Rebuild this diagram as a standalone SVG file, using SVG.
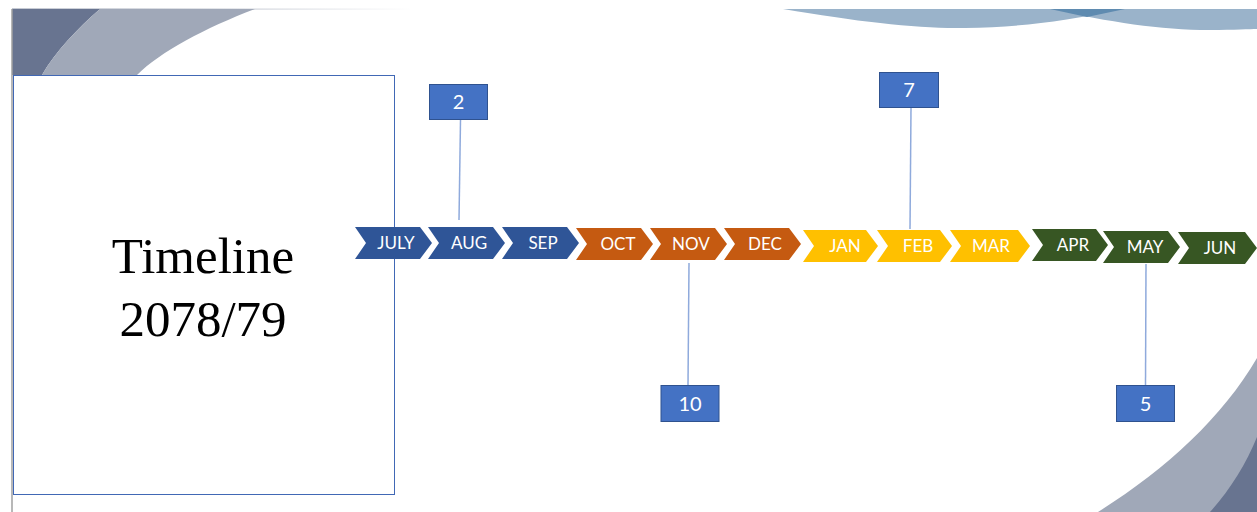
<svg xmlns="http://www.w3.org/2000/svg" width="1257" height="512" viewBox="0 0 1257 512">
<defs>
<style>
.mo{font-family:Lato,"Open Sans","Liberation Sans",sans-serif;font-size:17px;fill:#fff;text-anchor:middle}
.blue{fill:#2F5597}.orange{fill:#C55A11}.yellow{fill:#FFC000}.green{fill:#375623}
.nb{fill:#4472C4;stroke:#2F528F;stroke-width:1}
.nt{font-family:Lato,"Open Sans","Liberation Sans",sans-serif;font-size:20px;fill:#fff;text-anchor:middle}
.conn{stroke:#8FAADC;stroke-width:1.5;fill:none}
.title{font-family:"Liberation Serif","Times New Roman",serif;font-size:51px;fill:#000;text-anchor:middle}
</style>
<linearGradient id="topfade" x1="0" y1="0" x2="1" y2="0">
<stop offset="0" stop-color="#8A93A6"/><stop offset="1" stop-color="#8A93A6" stop-opacity="0"/>
</linearGradient>
</defs>
<rect width="1257" height="512" fill="#fff"/>
<g id="background">
<rect x="12" y="8.5" width="400" height="1.2" fill="url(#topfade)"/>
<path d="M12,9 L100,9 C78,28 55,52 42,75 L12,75 Z" fill="#687490"/>
<path d="M100,9 L255,9 C205,28 160,52 137,75 L42,75 C55,52 78,28 100,9 Z" fill="#A0A8B8"/>
<path d="M783,9 C860,22 920,29 965,28 C1020,27 1060,22 1125,9 Z" fill="#9AB3CA"/>
<path d="M1050,9 C1110,22 1160,30 1210,30 C1235,30 1250,29 1257,29 L1257,9 Z" fill="#9AB3CA"/>
<path d="M1050,9 L1087,17 L1125,9 Z" fill="#5F8BB0"/>
<path d="M1098,512 C1165,470 1222,418 1257,358 L1257,512 Z" fill="#A0A8B8"/>
<path d="M1210,512 C1230,490 1246,464 1257,437 L1257,512 Z" fill="#687490"/>
<line x1="12" y1="9" x2="12" y2="512" stroke="#A0A0A0" stroke-width="1.5"/>
</g>
<g id="title-box">
<rect x="13.5" y="75.5" width="381" height="419" fill="#fff" stroke="#4168B5" stroke-width="1"/>
<text class="title" x="203" y="273">Timeline</text>
<text class="title" x="203" y="336">2078/79</text>
</g>
<g id="connectors">
<line class="conn" x1="460.5" y1="120" x2="459" y2="220"/>
<line class="conn" x1="911" y1="108" x2="910" y2="229"/>
<line class="conn" x1="689" y1="263" x2="688" y2="385"/>
<line class="conn" x1="1146" y1="264" x2="1145.5" y2="385"/>
</g>
<g id="m-jul"><polygon class="blue" points="355,227 420,227 432,243 420,259 355,259 366,243"/><text class="mo" x="396" y="249">JULY</text></g>
<g id="m-aug"><polygon class="blue" points="428,227 493,227 505,243 493,259 428,259 439,243"/><text class="mo" x="469" y="249">AUG</text></g>
<g id="m-sep"><polygon class="blue" points="502,227 567,227 579,243 567,259 502,259 513,243"/><text class="mo" x="543" y="249">SEP</text></g>
<g id="m-oct"><polygon class="orange" points="576,228 641,228 653,244 641,260 576,260 587,244"/><text class="mo" x="618" y="250">OCT</text></g>
<g id="m-nov"><polygon class="orange" points="650,228 715,228 727,244 715,260 650,260 661,244"/><text class="mo" x="691" y="250">NOV</text></g>
<g id="m-dec"><polygon class="orange" points="724,228 789,228 801,244 789,260 724,260 735,244"/><text class="mo" x="765" y="250">DEC</text></g>
<g id="m-jan"><polygon class="yellow" points="803,230 866,230 878,246 866,262 803,262 814,246"/><text class="mo" x="845" y="252">JAN</text></g>
<g id="m-feb"><polygon class="yellow" points="877,230 940,230 952,246 940,262 877,262 888,246"/><text class="mo" x="918" y="252">FEB</text></g>
<g id="m-mar"><polygon class="yellow" points="950,230 1018,230 1030,246 1018,262 950,262 961,246"/><text class="mo" x="991" y="252">MAR</text></g>
<g id="m-apr"><polygon class="green" points="1032,229 1096,229 1108,245 1096,261 1032,261 1043,245"/><text class="mo" x="1073" y="250.5">APR</text></g>
<g id="m-may"><polygon class="green" points="1103,231 1168,231 1180,247 1168,263 1103,263 1114,247"/><text class="mo" x="1145" y="252.5">MAY</text></g>
<g id="m-jun"><polygon class="green" points="1178,232 1245,232 1257,248 1245,264 1178,264 1189,248"/><text class="mo" x="1220" y="254">JUN</text></g>
<g id="n-2"><rect class="nb" x="429.5" y="84.5" width="58" height="35"/><text class="nt" x="458.5" y="109">2</text></g>
<g id="n-7"><rect class="nb" x="879.5" y="72.5" width="59" height="35"/><text class="nt" x="909" y="97">7</text></g>
<g id="n-10"><rect class="nb" x="661" y="385.5" width="58" height="36"/><text class="nt" x="690" y="410.5">10</text></g>
<g id="n-5"><rect class="nb" x="1116.5" y="385.5" width="58" height="36"/><text class="nt" x="1145.5" y="410.5">5</text></g>
</svg>
